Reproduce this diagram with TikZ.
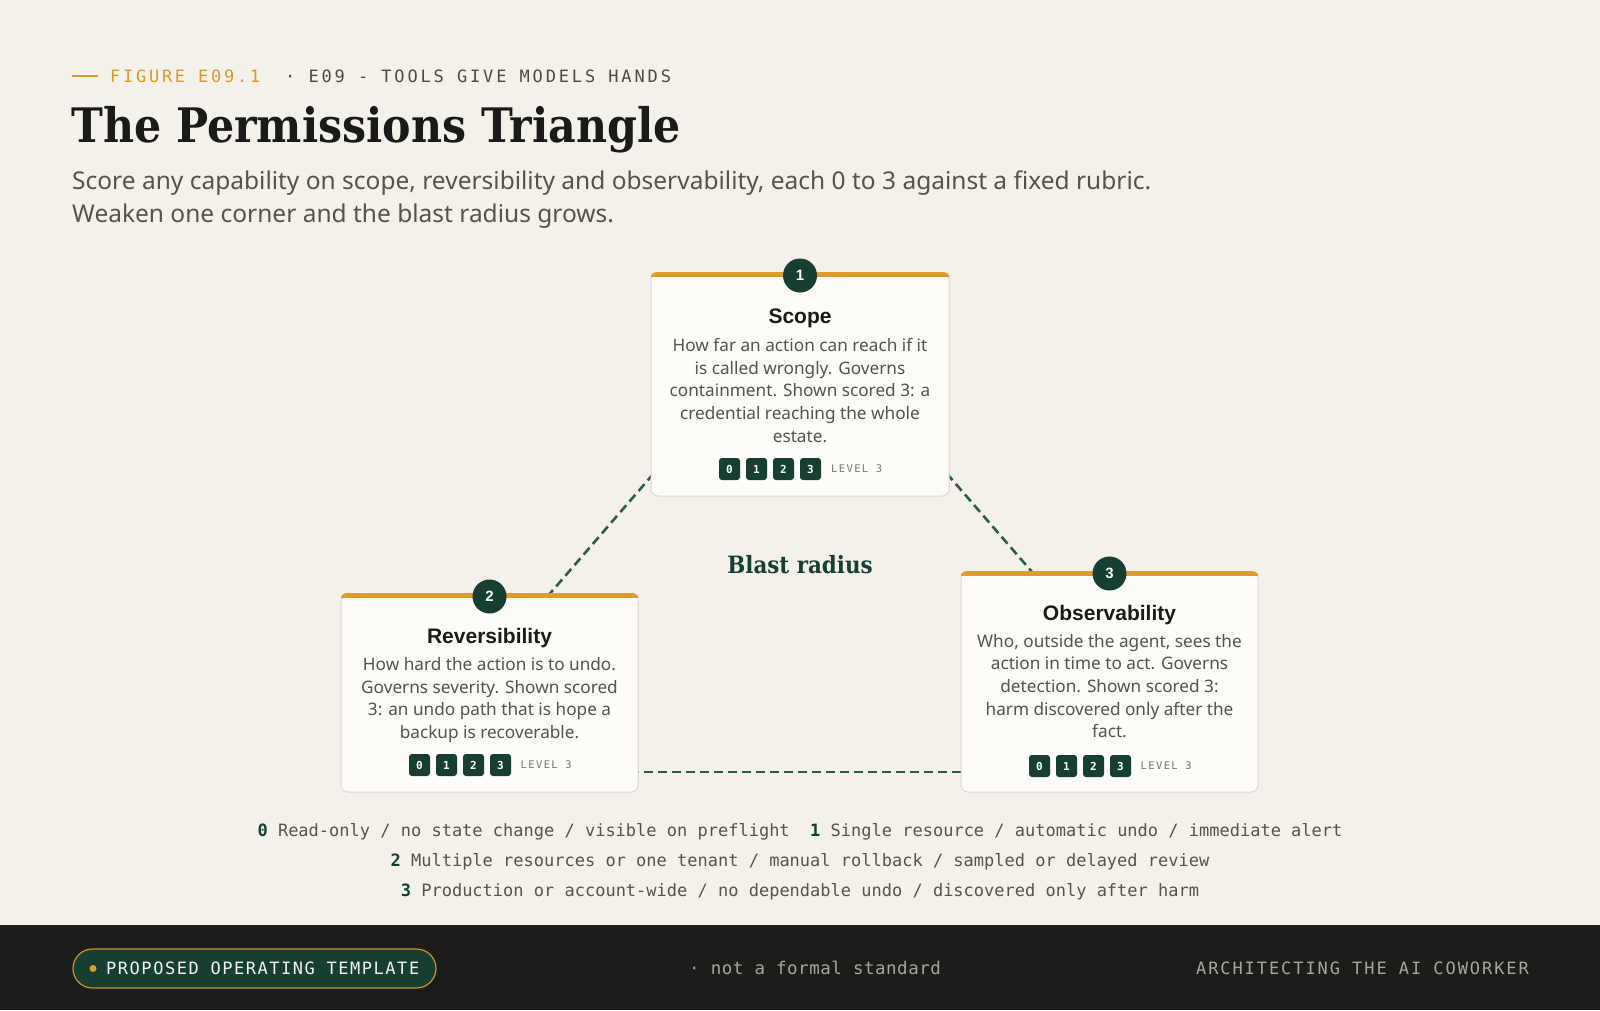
\documentclass[tikz,border=0pt]{standalone}
\usepackage{fontspec}
\setmainfont{Noto Sans}
\newfontfamily\serifbf{DejaVu Serif}[FakeStretch=0.9]
\newfontfamily\sansbf{Liberation Sans}
\newfontfamily\mono{DejaVu Sans Mono}
\definecolor{bg}{HTML}{F4F1EA}
\definecolor{cardfill}{HTML}{FDFCF8}
\definecolor{cardline}{HTML}{DEDAD0}
\definecolor{accent}{HTML}{E09B2D}
\definecolor{hdrorange}{HTML}{D9992B}
\definecolor{dkgreen}{HTML}{163F32}
\definecolor{linegreen}{HTML}{2E5A4A}
\definecolor{ink}{HTML}{1A1A18}
\definecolor{bodytext}{HTML}{55534E}
\definecolor{hdrgray}{HTML}{4A4A45}
\definecolor{levelgray}{HTML}{77746C}
\definecolor{footbg}{HTML}{1C1C1A}
\definecolor{footgray}{HTML}{A9A59B}
\definecolor{cream}{HTML}{F4F1EA}
\definecolor{pillline}{HTML}{C9932E}
\newcommand\fsz[2]{\fontsize{#1}{#2}\selectfont}
\newcommand\lnum[1]{{\bfseries\color{dkgreen}#1}}
\newcommand\cardbar[1]{%
  \begin{scope}
    \clip[rounded corners=7pt] ([xshift=-0.5pt,yshift=-0.5pt]#1.south west) rectangle ([xshift=0.5pt,yshift=0.5pt]#1.north east);
    \fill[accent] ([yshift=1pt]#1.north west) rectangle ([yshift=-4pt]#1.north east);
  \end{scope}}
\tikzset{
  card/.style={draw=cardline, line width=1pt, fill=cardfill, rounded corners=7pt, inner sep=0},
  numc/.style={circle, fill=dkgreen, minimum size=34pt, inner sep=0, text=white, font=\sansbf\bfseries\fsz{15}{15}},
  ctitle/.style={inner sep=0, text=ink, font=\sansbf\bfseries\fsz{21}{24}},
  cbody/.style={inner sep=0, text=bodytext, align=center, font=\fsz{17.2}{22.7}},
  badge/.style={rounded corners=3pt, fill=dkgreen, minimum width=21pt, minimum height=22pt, inner sep=0, text=white, font=\mono\bfseries\fsz{11}{11}},
  level/.style={inner sep=0, text=levelgray, font=\mono\fsz{10.5}{10.5}\addfontfeature{LetterSpace=13}},
  conn/.style={draw=linegreen, line width=2.6pt, dash pattern=on 9pt off 5pt},
  legend/.style={inner sep=0, text=bodytext, font=\mono\fsz{17}{20}},
}
\begin{document}
\begin{tikzpicture}[x=1pt,y=-1pt]
\useasboundingbox (0,0) rectangle (1600,1010);
\fill[bg] (0,0) rectangle (1600,1010);

% header
\coordinate (dashA) at (72,75.5);
\coordinate (dashB) at (98,75.5);
\draw[hdrorange, line width=2pt] (dashA) -- (dashB);
\node[anchor=base west, inner sep=0, text=hdrorange, font=\mono\fsz{17}{20}\addfontfeature{LetterSpace=16}] (fig) at (110,82.5) {FIGURE E09.1};
\node[anchor=base west, inner sep=0, text=hdrgray, font=\mono\fsz{17}{20}\addfontfeature{LetterSpace=16.8}] (ep) at (285,82.5) {· E09 - TOOLS GIVE MODELS HANDS};
\node[anchor=base west, inner sep=0, text=ink, font=\serifbf\bfseries\fsz{47.5}{52}] (title) at (71,142) {The Permissions Triangle};
\node[anchor=base west, inner sep=0, text=bodytext, font=\fsz{24.5}{30}] (sub1) at (72,189) {Score any capability on scope, reversibility and observability, each 0 to 3 against a fixed rubric.};
\node[anchor=base west, inner sep=0, text=bodytext, font=\fsz{24.5}{30}] (sub2) at (72,222) {Weaken one corner and the blast radius grows.};

% triangle connectors
\coordinate (T) at (800,304);
\coordinate (L) at (490,663);
\coordinate (R) at (1110,662);
\coordinate (BL) at (490,772);
\coordinate (BR) at (1110,772);
\draw[conn] (T) -- (L);
\draw[conn] (T) -- (R);
\draw[conn] (BL) -- (BR);

\node[anchor=base, inner sep=0, text=dkgreen, font=\serifbf\bfseries\fsz{23.8}{28}] (blast) at (800,573) {Blast radius};

% Scope card
\node[card, minimum width=298pt, minimum height=223pt] (scope) at (800,384.5) {};
\cardbar{scope}
\node[numc] (n1) at ([yshift=-3pt]scope.north) {1};
\node[ctitle, anchor=base] (t1) at (800,323) {Scope};
\node[cbody, anchor=north] (b1) at (800,338.2) {How far an action can reach if it\\is called wrongly. Governs\\containment. Shown scored 3: a\\credential reaching the whole\\estate.};
\foreach \i in {0,...,3} \node[badge] (s\i) at ({729.5+27*\i},469) {\i};
\node[level, anchor=west] (sl) at (831,469) {LEVEL 3};

% Reversibility card
\node[card, minimum width=297pt, minimum height=198pt] (rev) at (489.5,693) {};
\cardbar{rev}
\node[numc] (n2) at ([yshift=-3pt]rev.north) {2};
\node[ctitle, anchor=base] (t2) at (489.5,643) {Reversibility};
\node[cbody, anchor=north] (b2) at (489.5,657.2) {How hard the action is to undo.\\Governs severity. Shown scored\\3: an undo path that is hope a\\backup is recoverable.};
\foreach \i in {0,...,3} \node[badge] (r\i) at ({419.5+27*\i},765) {\i};
\node[level, anchor=west] (rl) at (520.5,765) {LEVEL 3};

% Observability card
\node[card, minimum width=297pt, minimum height=220pt] (obs) at (1109.5,682) {};
\cardbar{obs}
\node[numc] (n3) at ([yshift=-2pt]obs.north) {3};
\node[ctitle, anchor=base] (t3) at (1109.5,620) {Observability};
\node[cbody, anchor=north] (b3) at (1109.5,633.9) {Who, outside the agent, sees the\\action in time to act. Governs\\detection. Shown scored 3:\\harm discovered only after the\\fact.};
\foreach \i in {0,...,3} \node[badge] (o\i) at ({1039.5+27*\i},766) {\i};
\node[level, anchor=west] (ol) at (1140.5,766) {LEVEL 3};

% legend
\node[legend, anchor=base] (leg1) at (800,836) {\lnum{0} Read-only / no state change / visible on preflight\ \ \lnum{1} Single resource / automatic undo / immediate alert};
\node[legend, anchor=base] (leg2) at (800,866) {\lnum{2} Multiple resources or one tenant / manual rollback / sampled or delayed review};
\node[legend, anchor=base] (leg3) at (800,896) {\lnum{3} Production or account-wide / no dependable undo / discovered only after harm};

% footer
\fill[footbg] (0,925) rectangle (1600,1010);
\node[draw=pillline, line width=1.2pt, fill=dkgreen, rounded corners=19.5pt, minimum width=363pt, minimum height=39pt, inner sep=0] (pill) at (254.5,968.5) {};
\node[circle, fill=accent, minimum size=7pt, inner sep=0] (dot) at (93,968.5) {};
\node[anchor=west, inner sep=0, text=cream, font=\mono\fsz{17}{20}\addfontfeature{LetterSpace=9}] (ptext) at (106,968) {PROPOSED OPERATING TEMPLATE};
\node[anchor=base west, inner sep=0, text=footgray, font=\mono\fsz{17.5}{20}\addfontfeature{LetterSpace=3}] (nfs) at (689,974.5) {· not a formal standard};
\node[anchor=base east, inner sep=0, text=footgray, font=\mono\fsz{17}{20}\addfontfeature{LetterSpace=11.3}] (arch) at (1529,974.5) {ARCHITECTING THE AI COWORKER};
\end{tikzpicture}
\end{document}
